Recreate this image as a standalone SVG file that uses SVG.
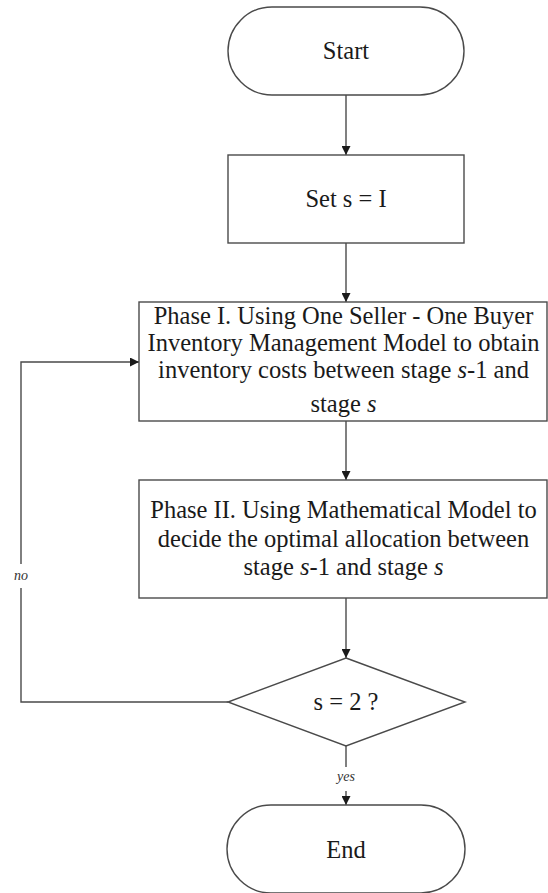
<svg xmlns="http://www.w3.org/2000/svg" width="548" height="893" viewBox="0 0 548 893">
  <style>
    .shape { fill: #ffffff; stroke: #4a4a4a; stroke-width: 1.4; }
    .edge { fill: none; stroke: #4a4a4a; stroke-width: 1.4; }
    .label { font-family: "Liberation Serif", "Times New Roman", serif; font-size: 24.5px; fill: #1a1a1a; text-anchor: middle; }
    .small { font-family: "Liberation Serif", "Times New Roman", serif; font-size: 14px; font-style: italic; fill: #333333; text-anchor: middle; }
    .it { font-style: italic; }
  </style>
  <defs>
    <marker id="arrow" viewBox="0 0 10 10" refX="10" refY="5" markerWidth="9" markerHeight="9" markerUnits="userSpaceOnUse" orient="auto">
      <path d="M0,0 L10,5 L0,10 Z" fill="#1a1a1a"/>
    </marker>
  </defs>
  <rect width="548" height="893" fill="#ffffff"/>

  <g id="connectors">
    <line class="edge" x1="346" y1="95" x2="346" y2="155" marker-end="url(#arrow)"/>
    <line class="edge" x1="346" y1="243" x2="346" y2="302" marker-end="url(#arrow)"/>
    <line class="edge" x1="346" y1="421" x2="346" y2="480" marker-end="url(#arrow)"/>
    <line class="edge" x1="346" y1="598" x2="346" y2="658" marker-end="url(#arrow)"/>
    <line class="edge" x1="346" y1="746" x2="346" y2="767"/>
    <line class="edge" x1="346" y1="791" x2="346" y2="805" marker-end="url(#arrow)"/>
    <text class="small" x="346" y="781">yes</text>
    <polyline class="edge" points="228,702 21,702 21,588"/>
    <polyline class="edge" points="21,564 21,362 139,362" marker-end="url(#arrow)"/>
    <text class="small" x="21" y="580">no</text>
  </g>

  <g id="start">
    <rect class="shape" x="228" y="7" width="236" height="88" rx="44" ry="44"/>
    <text class="label" x="346" y="59">Start</text>
  </g>

  <g id="set-s">
    <rect class="shape" x="228" y="155" width="236" height="88"/>
    <text class="label" x="346" y="207">Set s = I</text>
  </g>

  <g id="phase-1">
    <rect class="shape" x="139" y="302" width="408" height="119"/>
    <text class="label" x="343.5" y="324">Phase I. Using One Seller - One Buyer</text>
    <text class="label" x="343.5" y="351">Inventory Management Model to obtain</text>
    <text class="label" x="343.5" y="378">inventory costs between stage <tspan class="it">s</tspan>-1 and</text>
    <text class="label" x="343.5" y="412">stage <tspan class="it">s</tspan></text>
  </g>

  <g id="phase-2">
    <rect class="shape" x="139" y="480" width="408" height="118"/>
    <text class="label" x="343.5" y="518">Phase II. Using Mathematical Model to</text>
    <text class="label" x="343.5" y="547">decide the optimal allocation between</text>
    <text class="label" x="343.5" y="575">stage <tspan class="it">s</tspan>-1 and stage <tspan class="it">s</tspan></text>
  </g>

  <g id="check-s">
    <polygon class="shape" points="346,658 465,702 346,746 228,702"/>
    <text class="label" x="346" y="710">s = 2 ?</text>
  </g>

  <g id="end">
    <rect class="shape" x="227" y="805" width="238" height="88" rx="44" ry="44"/>
    <text class="label" x="346" y="858">End</text>
  </g>
</svg>
